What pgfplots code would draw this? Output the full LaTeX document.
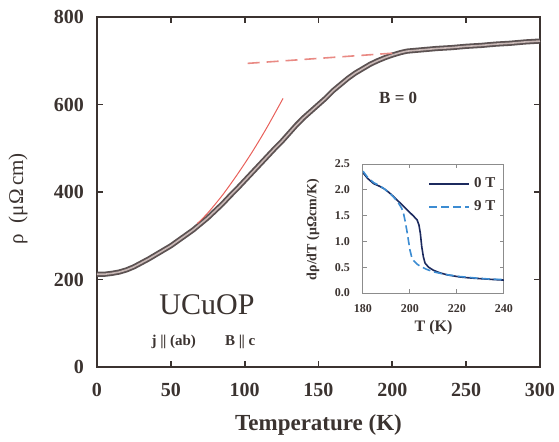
\documentclass[border=0pt]{standalone}
\usepackage{pgfplots}
\pgfplotsset{compat=1.18}
\usepackage{fontspec}
\setmainfont{Liberation Serif}
\definecolor{axcol}{HTML}{3B3330}
\definecolor{curveout}{HTML}{5C5252}
\definecolor{curvein}{HTML}{C9B8B6}
\definecolor{fitred}{HTML}{E8605A}
\definecolor{dashred}{HTML}{E98A84}
\definecolor{navy}{HTML}{1C2A5E}
\definecolor{lblue}{HTML}{3C8CD2}
\definecolor{insetframe}{HTML}{8C8C8C}

\begin{document}
\begin{tikzpicture}
\path[use as bounding box] (-48.5pt,-37pt) rectangle (231pt,183.5pt);
% main panel
\begin{axis}[
  at={(0,0)}, anchor=south west,
  scale only axis, width=221.5pt, height=175pt,
  xmin=0, xmax=300, ymin=0, ymax=800,
  xtick={0,50,...,300}, ytick={0,200,...,800},
  tick align=inside, major tick length=3pt,
  axis line style={axcol, line width=1pt},
  every tick/.style={axcol, line width=0.9pt},
  /pgf/number format/assume math mode=true,
  tick label style={font=\fontsize{10}{10}\selectfont\bfseries, text=axcol},
  xticklabel style={yshift=-4.5pt},
  yticklabel style={xshift=-3pt},
  xlabel={Temperature (K)},
  xlabel style={at={(axis description cs:0.5,-0.166)}, anchor=center,
    font=\fontsize{11.5}{11.5}\selectfont\bfseries, text=axcol},
  ylabel={ρ \;(μΩ\,cm)},
  ylabel style={at={(axis description cs:-0.178,0.48)}, anchor=center, rotate=0,
    font=\fontsize{10.5}{10.5}\selectfont, text=axcol},
  clip=false,
]
% measured curve
\addplot[curveout, line width=2.6pt, line join=round] coordinates {
  (0,212) (5,212) (10,214) (15,217) (20,222) (25,229) (30,238) (35,247)
  (40,257) (45,267) (50,277) (55,289) (60,301) (65,313) (70,327) (75,341)
  (80,357) (85,373) (90,391) (95,408) (100,426) (105,444) (110,462)
  (115,480) (120,498) (125,515) (130,534) (135,553) (140,570) (145,585)
  (150,600) (155,615) (160,632) (165,646) (170,660) (175,672) (180,682)
  (185,692) (190,700) (195,707) (200,713) (203,716) (206,719) (210,722)
  (220,725) (230,728) (240,730) (250,733) (260,735) (270,738) (280,740)
  (290,743) (300,745)
};
\addplot[curvein, line width=0.8pt, line join=round] coordinates {
  (0,212) (5,212) (10,214) (15,217) (20,222) (25,229) (30,238) (35,247)
  (40,257) (45,267) (50,277) (55,289) (60,301) (65,313) (70,327) (75,341)
  (80,357) (85,373) (90,391) (95,408) (100,426) (105,444) (110,462)
  (115,480) (120,498) (125,515) (130,534) (135,553) (140,570) (145,585)
  (150,600) (155,615) (160,632) (165,646) (170,660) (175,672) (180,682)
  (185,692) (190,700) (195,707) (200,713) (203,716) (206,719) (210,722)
  (220,725) (230,728) (240,730) (250,733) (260,735) (270,738) (280,740)
  (290,743) (300,745)
};
% low-T fit
\addplot[fitred, line width=0.5pt, smooth] coordinates {
  (68,328) (75,352) (85,393) (95,440) (105,491) (115,547) (126,614)
};
% high-T linear extrapolation
\addplot[dashred, line width=0.8pt, dash pattern=on 6pt off 3.5pt] coordinates {
  (102,694) (203,718)
};
\node[font=\fontsize{8.5}{8.5}\selectfont\bfseries, text=axcol] at (axis cs:204,615) {B = 0};
\node[font=\fontsize{15}{15}\selectfont, text=axcol] at (axis cs:74.5,142) {UCuOP};
\node[font=\fontsize{7.5}{7.5}\selectfont\bfseries, text=axcol] at (axis cs:52,57) {j |\kern-0.3pt| (ab)};
\node[font=\fontsize{7.5}{7.5}\selectfont\bfseries, text=axcol] at (axis cs:97,57) {B |\kern-0.3pt| c};
\end{axis}

% inset
\begin{axis}[
  at={(133pt,37pt)}, anchor=south west,
  scale only axis, width=70.5pt, height=64.5pt,
  xmin=180, xmax=240, ymin=0, ymax=2.5,
  xtick={180,200,220,240}, ytick={0,0.5,...,2.5},
  tick align=inside, major tick length=1.8pt,
  axis line style={insetframe, line width=0.5pt},
  every tick/.style={insetframe, line width=0.5pt},
  /pgf/number format/assume math mode=true,
  yticklabel style={/pgf/number format/.cd, fixed, fixed zerofill, precision=1, /tikz/.cd},
  tick label style={font=\fontsize{6}{6}\selectfont\bfseries, text=axcol},
  xticklabel style={yshift=-2.2pt},
  yticklabel style={xshift=-3pt},
  xlabel={T (K)},
  xlabel style={at={(axis description cs:0.5,-0.27)}, anchor=center,
    font=\fontsize{8}{8}\selectfont\bfseries, text=axcol},
  ylabel={dρ/dT (μΩcm/K)},
  ylabel style={at={(axis description cs:-0.355,0.49)}, anchor=center,
    font=\fontsize{7}{7}\selectfont\bfseries, text=axcol},
  legend style={draw=none, fill=none, at={(rel axis cs:0.97,0.93)}, anchor=north east,
    font=\fontsize{7.5}{7.5}\selectfont\bfseries, text=axcol, row sep=1pt,
    inner sep=0pt},
  legend cell align=left,
  legend image code/.code={\draw[#1] (0pt,0pt) -- (20pt,0pt);},
]
\addplot[navy, line width=0.8pt] coordinates {
  (180,2.33) (182,2.22) (184.5,2.12) (187,2.07) (189,2.02) (191,1.95)
  (193,1.87) (195,1.78) (197.3,1.68) (199.5,1.58) (201.5,1.49) (203,1.42)
  (203.8,1.32) (204.4,1.16) (205,0.90) (205.7,0.70) (206.4,0.58)
  (207.9,0.50) (210,0.44) (212.8,0.39) (216,0.35) (221.3,0.31)
  (226,0.29) (232.6,0.27) (236,0.26) (240,0.25)
};
\addlegendentry{0 T}
\addplot[lblue, line width=0.8pt, dash pattern=on 4pt off 2pt] coordinates {
  (180,2.36) (182,2.24) (184.5,2.14) (187,2.08) (189,2.02) (191,1.95)
  (193,1.86) (195,1.75) (196.5,1.64) (197.3,1.53) (198,1.38) (198.7,1.20)
  (199.4,1.00) (200,0.83) (200.7,0.70) (201.5,0.63) (203,0.56)
  (204.3,0.52) (207,0.46) (210,0.41) (215,0.36) (221,0.32) (228,0.29)
  (234,0.27) (240,0.26)
};
\addlegendentry{9 T}
\end{axis}
\end{tikzpicture}
\end{document}
